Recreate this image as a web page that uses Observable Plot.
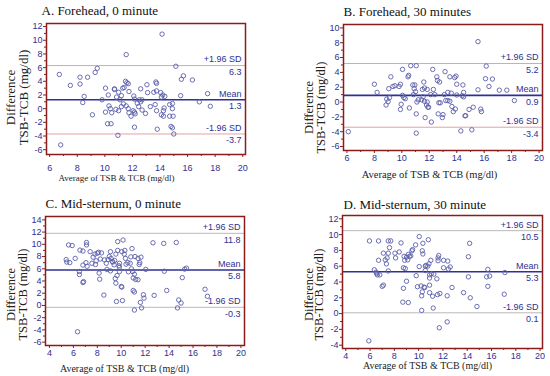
<!DOCTYPE html>
<html><head><meta charset="utf-8">
<script src="https://cdn.jsdelivr.net/npm/d3@7"></script>
<script src="https://cdn.jsdelivr.net/npm/@observablehq/plot@0.6"></script>
<style>
body{margin:0;background:#fff;}
#root{position:relative;width:550px;height:376px;overflow:hidden;background:#fff}
.panel{position:absolute;width:275px;height:188px}
.panel svg{position:absolute;left:0;top:0}
</style></head><body><div id="root"></div>
<script>
// ---------- data ----------
const titles = ["A. Forehead, 0 minute", "B. Forehead, 30 minutes", "C. Mid-sternum, 0 minute", "D. Mid-sternum, 30 minute"];
const xTitle = "Average of TSB & TCB (mg/dl)";
const yTitle1 = "Difference";
const yTitle2 = "TSB-TCB (mg/dl)";
const limitNames = ["+1.96 SD", "Mean", "-1.96 SD"];

const aLimits = [6.3, 1.3, -3.7];
const bLimits = [5.2, 0.9, -3.4];
const cLimits = [11.8, 5.8, -0.3];
const dLimits = [10.5, 5.3, 0.1];

const abXTicks = [6, 8, 10, 12, 14, 16, 18, 20];
const cdXTicks = [4, 6, 8, 10, 12, 14, 16, 18, 20];
const aYTicks = [-6, -4, -2, 0, 2, 4, 6, 8, 10, 12];
const bYTicks = [-6, -4, -2, 0, 2, 4, 6, 8, 10];
const cYTicks = [-6, -4, -2, 0, 2, 4, 6, 8, 10, 12, 14];
const dYTicks = [-4, -2, 0, 2, 4, 6, 8, 10, 12];

const aAvg = [6.7,6.8,7.5,8.2,8.2,8.5,8.4,8.75,9.1,9.3,
  9.45,9.8,10.05,10.05,10.2,10.25,10.3,10.4,10.5,10.45,
  10.7,10.7,10.8,10.85,10.95,11.0,11.0,11.1,11.2,11.2,
  11.3,11.35,11.4,11.5,11.55,11.55,11.6,11.7,11.75,11.7,
  11.75,11.9,12.05,12.1,12.15,12.15,12.15,12.2,12.35,12.45,
  12.5,12.6,12.6,12.7,12.7,12.95,13.05,13.1,13.3,13.55,
  13.65,13.7,13.75,13.75,13.8,13.75,14.05,14.1,14.1,14.15,
  14.2,14.25,14.25,14.3,14.35,14.7,14.7,14.8,14.9,14.9,
  14.9,14.95,15.0,15.15,15.5,15.55,15.7,16.35,16.85,17.45,17.65];
const aDiff = [5.0,-5.3,3.4,4.6,3.6,1.8,0.9,4.6,-0.9,5.3,
  5.9,1.3,3.0,-0.5,-2.2,2.0,0.4,0.0,-0.6,-2.2,
  2.9,2.8,-0.1,1.7,-3.9,2.4,-0.3,1.3,1.9,0.3,
  3.0,0.7,3.1,4.0,7.9,0.4,3.8,3.65,2.5,0.0,
  -0.6,-1.1,-0.3,1.85,1.4,-0.5,-2.7,-0.75,0.8,0.3,
  1.3,2.9,1.0,-0.2,1.3,-0.7,3.5,2.35,0.3,2.4,
  0.6,3.9,3.7,2.6,-3.0,-0.3,2.35,1.7,-0.9,10.9,
  2.0,-1.1,-0.3,0.1,1.8,0.6,-1.1,-2.6,-2.8,0.75,
  0.0,-1.1,-3.7,6.2,1.9,4.3,4.8,4.2,1.0,2.2,0.35];

const bAvg = [6.1,8.0,8.2,8.85,8.9,9.0,9.1,9.05,9.2,9.35,
  9.5,9.8,9.9,9.9,9.95,10.05,10.05,10.15,10.25,10.45,
  10.5,10.55,10.65,10.8,10.85,10.9,10.95,11.0,11.05,11.05,
  11.05,11.1,11.2,11.45,11.5,11.55,11.6,11.65,11.65,11.7,
  11.8,11.85,11.85,11.9,11.95,12.1,12.15,12.25,12.3,12.4,
  12.55,12.6,12.65,12.7,12.75,12.8,12.95,13.0,13.1,13.15,
  13.2,13.35,13.35,13.5,13.5,13.6,13.65,13.75,13.85,13.9,
  13.95,14.0,14.0,14.3,14.4,14.45,14.5,14.5,14.6,14.65,
  14.9,15.1,15.2,15.55,15.55,15.75,15.8,16.1,16.15,16.35,
  16.6,17.1,17.65,18.2];
const bDiff = [-4.0,2.4,1.3,-0.4,0.4,0.05,0.6,1.8,3.4,2.1,
  2.2,2.1,-1.0,2.4,-0.3,4.4,0.9,0.6,0.45,3.4,
  3.6,-0.8,4.9,2.3,1.0,1.8,2.3,1.4,4.9,-1.6,
  -4.2,0.0,0.3,0.3,1.7,0.7,2.7,1.9,0.1,-2.1,
  -0.4,1.7,0.0,-0.7,-0.7,1.0,-2.7,4.4,1.7,1.0,
  3.4,2.9,-1.6,-0.1,2.7,-0.1,-2.1,-1.7,1.0,4.1,
  0.2,1.3,0.2,0.1,3.4,1.2,-0.6,-1.3,3.3,-0.95,
  3.5,2.4,0.95,-3.9,0.85,2.3,1.3,0.7,-1.85,-1.85,
  -1.0,-3.75,-0.7,1.65,8.15,-0.95,-1.3,3.15,4.85,2.1,
  3.1,1.6,1.6,0.2];

const cAvg = [5.4,5.45,5.6,5.7,5.9,6.15,6.35,6.5,6.5,6.55,
  6.8,6.8,6.8,6.85,7.05,7.1,7.1,7.15,7.4,7.55,
  7.65,7.8,7.85,7.9,8.0,8.1,8.15,8.2,8.25,8.35,
  8.55,8.6,8.75,8.8,8.9,9.0,9.1,9.1,9.15,9.25,
  9.3,9.4,9.45,9.55,9.5,9.55,9.6,9.65,9.7,9.7,
  9.8,9.85,9.85,9.85,10.0,10.05,10.05,10.1,10.15,10.25,
  10.3,10.35,10.4,10.55,10.6,10.75,10.8,10.85,10.9,10.95,
  11.0,11.0,11.1,11.1,11.1,11.15,11.2,11.4,11.4,11.5,
  11.55,11.6,11.65,11.7,11.85,11.9,12.05,12.65,12.75,13.55,
  13.6,13.8,14.6,14.7,14.8,15.0,15.1,15.3,15.45,17.0,17.2];
const cDiff = [7.5,7.1,9.9,7.0,9.8,7.7,-4.3,5.55,5.05,9.05,
  8.9,6.6,3.75,3.9,7.0,10.3,9.9,6.4,8.8,6.9,
  7.9,8.4,6.7,7.3,8.55,8.7,5.3,4.3,7.6,8.6,
  1.7,7.45,6.9,5.9,7.5,8.0,5.65,8.8,7.7,7.2,
  7.1,6.65,7.35,8.4,4.4,3.65,0.65,4.9,10.45,9.0,
  6.5,6.9,5.55,6.25,3.1,8.8,3.0,0.8,10.7,8.4,
  9.0,7.7,6.75,7.0,5.5,6.9,7.95,6.0,9.3,5.55,
  2.45,4.5,2.2,-0.75,5.1,8.0,4.25,7.7,4.2,6.7,
  7.0,0.5,7.9,-0.4,1.75,1.2,5.9,10.25,1.65,10.15,
  5.6,2.45,10.3,-0.4,0.9,0.4,4.55,5.95,6.1,2.65,1.5];

const dAvg = [5.95,5.9,6.35,6.5,6.55,6.6,6.7,6.7,6.8,7.0,
  7.1,7.1,7.25,7.35,7.4,7.5,7.5,7.5,7.7,7.6,
  8.05,8.1,8.4,8.55,8.7,8.75,8.75,8.8,8.85,8.9,
  9.0,9.0,9.1,9.15,9.15,9.25,9.35,9.45,9.5,9.75,
  9.8,9.9,10.05,10.05,10.2,10.25,10.25,10.3,10.35,10.3,
  10.35,10.45,10.5,10.55,10.55,10.6,10.75,10.8,10.85,10.9,
  10.9,10.9,10.9,11.0,11.05,11.15,11.2,11.25,11.5,11.55,
  11.6,11.6,11.65,11.7,11.75,12.05,12.05,12.35,12.35,12.4,
  12.45,12.6,12.75,13.7,14.1,14.1,14.2,14.25,14.8,15.6,
  15.7,15.7,15.85,17.1,17.05];
const dDiff = [9.2,-3.45,5.55,5.25,5.05,4.9,6.75,9.2,4.9,3.45,
  3.6,7.65,6.8,6.3,7.05,7.65,9.2,5.4,9.2,8.35,
  7.65,7.05,7.8,8.95,1.45,3.2,5.8,7.25,6.75,5.7,
  7.15,4.1,6.8,1.4,7.5,7.25,7.3,7.95,8.1,8.7,
  4.8,3.4,9.75,5.95,3.5,2.25,0.4,7.95,7.55,2.75,
  8.9,3.35,3.3,5.45,6.0,6.1,6.0,9.35,6.3,4.9,
  4.5,3.6,2.65,6.75,5.05,2.2,0.7,5.0,4.4,2.4,
  6.7,7.05,7.35,-1.8,2.55,5.8,6.75,2.25,-1.05,6.65,
  5.65,5.9,3.3,2.65,4.65,7.2,8.9,2.0,0.9,4.65,
  5.6,3.45,4.75,5.2,2.45];

// ---------- styles ----------
const NAVY = "#2e3192";
const DOT = "#5b5fa8";
const RED = "#8b1c1c";
const SANS = "Liberation Sans, Arial, sans-serif";
const SERIF = "Liberation Serif, Times New Roman, serif";

const panels = [
  {left: 0, top: 0, title: titles[0], avg: aAvg, diff: aDiff, limits: aLimits, xTicks: abXTicks, yTicks: aYTicks,
   xDomain: [5.77, 20.2], yDomain: [-6.7, 12.45], m: [46, 30, 23, 34], xPad: 7, sd: "#e3a3a3",
   titlePos: [41, 10], yT1: [10, 97], yT2: [23, 97], yTSize: 13, xT: [116, 178], xTSize: 9},
  {left: 275, top: 0, title: titles[1], avg: bAvg, diff: bDiff, limits: bLimits, xTicks: abXTicks, yTicks: bYTicks,
   xDomain: [5.75, 20.25], yDomain: [-6.54, 10.46], m: [68, 8, 24, 38], xPad: 1, sd: "#e3a3a3",
   titlePos: [68, 11], yT1: [33, 107], yT2: [45, 107], yTSize: 12.5, xT: [154, 174], xTSize: 10.5},
  {left: 0, top: 188, title: titles[2], avg: cAvg, diff: cDiff, limits: cLimits, xTicks: cdXTicks, yTicks: cYTicks,
   xDomain: [3.67, 20.3], yDomain: [-6.55, 14.55], m: [45, 31, 28, 31], xPad: 1, sd: "#b8b8b8",
   titlePos: [45, 15], yT1: [10, 106], yT2: [22, 106], yTSize: 12.5, xT: [124, 180], xTSize: 10},
  {left: 275, top: 188, title: titles[3], avg: dAvg, diff: dDiff, limits: dLimits, xTicks: cdXTicks, yTicks: dYTicks,
   xDomain: [3.73, 20.2], yDomain: [-4.42, 12.42], m: [67, 8, 27, 28], xPad: 1, sd: "#b8b8b8",
   titlePos: [68, 16], yT1: [33, 106], yT2: [43, 106], yTSize: 12.5, xT: [152, 177], xTSize: 10}
];

function at(p, px, py, str, o) {
  return Plot.text([str], {frameAnchor: "top-left", dx: px - p.m[0], dy: py - p.m[2], text: d => d,
    textAnchor: "middle", lineAnchor: "middle", ...o});
}

const root = document.getElementById("root");
for (const p of panels) {
  const pts = p.avg.map((x, i) => ({x, y: p.diff[i]}));
  const xMinor = d3.range(Math.ceil(p.xDomain[0]), Math.floor(p.xDomain[1]) + 1).filter(v => v % 2 !== 0);
  const yMinor = d3.range(Math.ceil(p.yDomain[0]), Math.floor(p.yDomain[1]) + 1).filter(v => v % 2 !== 0);
  const svg = Plot.plot({
    width: 275, height: 188,
    marginLeft: p.m[0], marginRight: p.m[1], marginTop: p.m[2], marginBottom: p.m[3],
    style: {background: "transparent", fontFamily: SANS, fontSize: "9px", overflow: "visible"},
    x: {domain: p.xDomain},
    y: {domain: p.yDomain},
    marks: [
      Plot.ruleY([p.limits[0], p.limits[2]], {stroke: p.sd, strokeWidth: 1}),
      Plot.ruleY([p.limits[1]], {stroke: NAVY, strokeWidth: 1.6}),
      Plot.dot(pts, {x: "x", y: "y", r: 2.2, stroke: DOT, strokeWidth: 0.9, fill: "none"}),
      Plot.frame({stroke: RED, strokeWidth: 1.5}),
      Plot.axisX({ticks: p.xTicks, tickSize: 3, tickPadding: p.xPad, stroke: RED, fill: NAVY, label: null, tickFormat: d => String(d)}),
      Plot.axisX({ticks: xMinor, tickSize: 2, stroke: RED, label: null, tickFormat: () => ""}),
      Plot.axisY({ticks: p.yTicks, tickSize: 3, tickPadding: 1, stroke: RED, fill: NAVY, label: null, tickFormat: d => String(d)}),
      Plot.axisY({ticks: yMinor, tickSize: 2, stroke: RED, label: null, tickFormat: () => ""}),
      Plot.text(p.limits, {y: d => d, frameAnchor: "right", dx: -4, dy: -6, textAnchor: "end", lineAnchor: "middle", fill: NAVY, fontSize: 9,
        text: (d, i) => limitNames[i]}),
      Plot.text(p.limits, {y: d => d, frameAnchor: "right", dx: -4, dy: 6.5, textAnchor: "end", lineAnchor: "middle", fill: NAVY, fontSize: 9,
        text: d => d.toFixed(1)}),
      at(p, p.titlePos[0], p.titlePos[1], p.title, {textAnchor: "start", fontFamily: SERIF, fontSize: 13, fill: "#111"}),
      at(p, p.yT1[0], p.yT1[1], yTitle1, {rotate: -90, fontFamily: SERIF, fontSize: p.yTSize, fill: "#222"}),
      at(p, p.yT2[0], p.yT2[1], yTitle2, {rotate: -90, fontFamily: SERIF, fontSize: p.yTSize, fill: "#222"}),
      at(p, p.xT[0], p.xT[1], xTitle, {fontFamily: SERIF, fontSize: p.xTSize, fill: "#222"})
    ]
  });
  const div = document.createElement("div");
  div.className = "panel";
  div.style.left = p.left + "px";
  div.style.top = p.top + "px";
  div.appendChild(svg);
  root.appendChild(div);
}
</script>
</body></html>
